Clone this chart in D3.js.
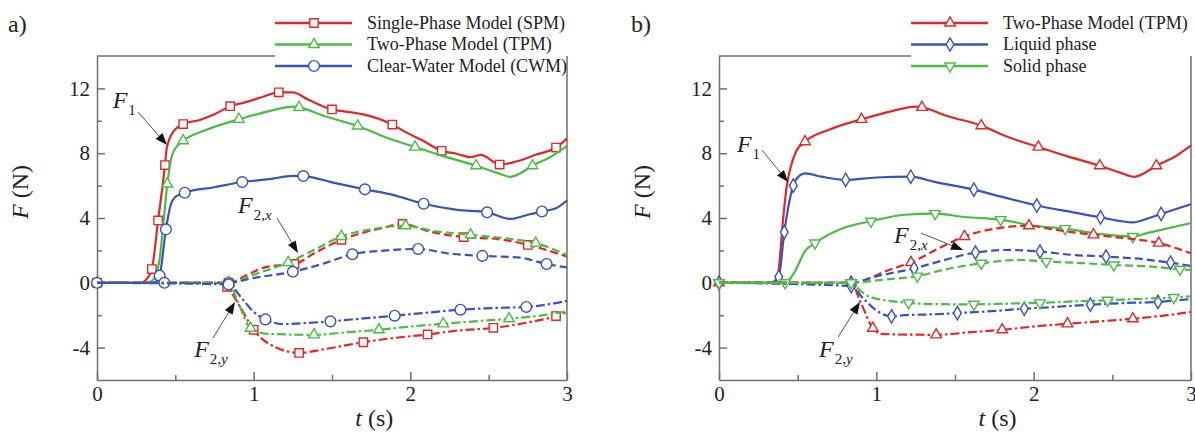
<!DOCTYPE html>
<html>
<head>
<meta charset="utf-8">
<script src="https://cdn.jsdelivr.net/npm/d3@7"></script>
<style>
body { margin: 0; background: #fff; }
svg { display: block; font-family: "Liberation Serif", "Times New Roman", serif; }
</style>
</head>
<body>
<svg id="chart" width="1195" height="435"></svg>
<script>
// axis ticks
var tTicks = [0, 1, 2, 3];
var tMinor = [0.5, 1.5, 2.5];
var fTicks = [-4, 0, 4, 8, 12];
var fMinor = [-2, 2, 6, 10];

// panel a, points are [t (s), F (N), marker?]
var spmF1 = [[0,0,1],[0.28,0],[0.31,0.15],[0.35,0.85,1],[0.39,3.85,1],[0.434,7.27,1],[0.445,8.3],[0.487,9.33],[0.55,9.8,1],[0.657,10.05],[0.75,10.4],[0.85,10.9,1],[0.95,11.15],[1.05,11.45],[1.16,11.76,1],[1.25,11.75],[1.35,11.3],[1.5,10.7,1],[1.6,10.55],[1.7,10.4],[1.885,9.77,1],[1.97,9.3],[2.07,8.83],[2.2,8.15,1],[2.3,7.95],[2.385,7.75],[2.45,7.9],[2.57,7.3,1],[2.68,7.5],[2.8,7.9],[2.93,8.35,1],[3,8.9]];
var tpmF1 = [[0,0,1],[0.32,0],[0.36,0.2],[0.4,1.5],[0.425,3.8],[0.449,6.1,1],[0.476,7.78],[0.508,8.4],[0.55,8.77,1],[0.7,9.45],[0.906,10.09,1],[1.1,10.6],[1.25,10.87],[1.29,10.83,1],[1.45,10.3],[1.664,9.68,1],[1.85,8.95],[2.03,8.38,1],[2.2,7.85],[2.42,7.23,1],[2.55,6.8],[2.64,6.54],[2.7,6.75],[2.78,7.23,1],[2.9,7.8],[3,8.45]];
var cwmF1 = [[0,0,1],[0.35,0],[0.38,0.1],[0.4,0.44,1],[0.44,3.3,1],[0.47,4.8],[0.5,5.3],[0.56,5.56,1],[0.75,5.9],[0.927,6.22,1],[1.1,6.4],[1.25,6.6],[1.317,6.59,1],[1.5,6.2],[1.71,5.77,1],[1.9,5.4],[2.085,4.88,1],[2.3,4.5],[2.49,4.35,1],[2.64,3.94],[2.75,4.2],[2.84,4.4,1],[2.93,4.6],[3,5.08]];
var spmF2x = [[0,0],[0.84,0,1],[0.95,0.45],[1.09,1.0],[1.2,1.1],[1.26,1.16,1],[1.4,1.9],[1.56,2.65,1],[1.7,3.1],[1.82,3.38],[1.95,3.63,1],[2.12,3.17],[2.34,2.82,1],[2.56,2.7],[2.75,2.34,1],[3,1.62]];
var tpmF2x = [[0,0],[0.84,0,1],[1.0,0.5],[1.22,1.26,1],[1.4,2.1],[1.56,2.86,1],[1.75,3.3],[1.97,3.52,1],[2.15,3.2],[2.385,2.96,1],[2.6,2.75],[2.8,2.45,1],[3,1.72]];
var cwmF2x = [[0,0],[0.43,0,1],[0.84,0,1],[1.0,0.3],[1.25,0.68,1],[1.45,1.2],[1.63,1.76,1],[1.85,2.0],[2.05,2.09,1],[2.25,1.8],[2.46,1.66,1],[2.7,1.55],[2.87,1.16,1],[3,0.95]];
var spmF2y = [[0,0],[0.78,0],[0.83,-0.25,1],[0.92,-1.6],[1.0,-2.9,1],[1.14,-3.98],[1.29,-4.33,1],[1.45,-4.1],[1.7,-3.67,1],[1.9,-3.4],[2.11,-3.19,1],[2.3,-2.95],[2.53,-2.78,1],[2.75,-2.45],[2.93,-2.05,1],[3,-1.8]];
var tpmF2y = [[0,0],[0.84,0,1],[0.9,-1.2],[0.98,-2.8,1],[1.09,-3.15],[1.385,-3.21,1],[1.6,-3.05],[1.8,-2.9,1],[2.0,-2.7],[2.21,-2.53,1],[2.45,-2.35],[2.63,-2.22,1],[2.85,-2.0],[3,-1.76]];
var cwmF2y = [[0,0],[0.84,-0.1,1],[0.92,-0.9],[1.0,-1.8],[1.075,-2.26,1],[1.19,-2.55],[1.3,-2.5],[1.49,-2.38,1],[1.7,-2.2],[1.9,-2.03,1],[2.1,-1.85],[2.32,-1.66,1],[2.55,-1.55],[2.74,-1.49,1],[2.9,-1.3],[3,-1.12]];

// panel b
var tpmTotF1 = [[0,0,1],[0.33,0],[0.37,0.3],[0.409,4.08],[0.43,5.93],[0.46,7.3],[0.49,8.1],[0.547,8.71,1],[0.7,9.45],[0.906,10.09,1],[1.1,10.6],[1.25,10.87],[1.29,10.83,1],[1.45,10.3],[1.667,9.7,1],[1.85,8.95],[2.03,8.38,1],[2.2,7.85],[2.42,7.23,1],[2.55,6.8],[2.64,6.54],[2.7,6.75],[2.78,7.23,1],[2.9,7.8],[3,8.48]];
var liquidF1 = [[0,0,1],[0.34,0],[0.38,0.37,1],[0.415,3.13,1],[0.472,6.0,1],[0.51,6.6],[0.547,6.75],[0.65,6.55],[0.805,6.35,1],[1.0,6.5],[1.219,6.55,1],[1.37,6.23],[1.62,5.75,1],[1.8,5.3],[2.02,4.77,1],[2.25,4.35],[2.425,4.04,1],[2.63,3.73],[2.72,3.95],[2.81,4.25,1],[3,4.85]];
var solidF1 = [[0,0,1],[0.42,0,1],[0.475,0.58],[0.55,2.0],[0.61,2.45,1],[0.79,3.38],[0.966,3.8,1],[1.18,4.2],[1.374,4.27,1],[1.56,4.06],[1.79,3.9,1],[2.0,3.52],[2.2,3.34,1],[2.43,3.0],[2.63,2.86,1],[2.72,3.07],[3,3.69]];
var tpmTotF2x = [[0,0],[0.84,0,1],[1.08,0.79],[1.22,1.26,1],[1.42,2.24],[1.56,2.86,1],[1.78,3.38],[1.97,3.52,1],[2.14,3.27],[2.38,2.96,1],[2.58,2.76],[2.795,2.45,1],[3,1.82]];
var liquidF2x = [[0,0],[0.84,0,1],[1.0,0.4],[1.24,0.89,1],[1.45,1.45],[1.63,1.87,1],[1.85,2.03],[2.04,1.93,1],[2.25,1.72],[2.46,1.62,1],[2.7,1.45],[2.87,1.24,1],[3,1.04]];
var solidF2x = [[0,0],[0.84,0,1],[1.05,0.2],[1.26,0.41,1],[1.45,0.85],[1.667,1.2,1],[1.9,1.41],[2.08,1.31,1],[2.3,1.22],[2.51,1.1,1],[2.75,1.0],[2.93,0.83,1],[3,0.79]];
var tpmTotF2y = [[0,0],[0.84,0],[0.9,-1.2],[0.978,-2.8,1],[1.03,-3.15],[1.2,-3.2],[1.38,-3.21,1],[1.6,-3.05],[1.8,-2.9,1],[2.0,-2.7],[2.215,-2.53,1],[2.42,-2.38],[2.63,-2.22,1],[2.85,-2.0],[3,-1.8]];
var liquidF2y = [[0,0],[0.84,-0.2,1],[0.92,-1.0],[1.0,-1.7],[1.097,-2.07,1],[1.18,-2.0],[1.35,-1.95],[1.515,-1.87,1],[1.73,-1.75],[1.94,-1.6,1],[2.15,-1.48],[2.36,-1.35,1],[2.58,-1.25],[2.79,-1.18,1],[3,-1.0]];
var solidF2y = [[0,0],[0.84,0,1],[0.9,-0.5],[0.96,-0.87],[1.205,-1.24,1],[1.4,-1.32],[1.62,-1.33,1],[1.85,-1.28],[2.04,-1.24,1],[2.25,-1.15],[2.47,-1.08,1],[2.7,-0.98],[2.89,-0.91,1],[3,-0.83]];

var legendA = ["Single-Phase Model (SPM)", "Two-Phase Model (TPM)", "Clear-Water Model (CWM)"];
var legendB = ["Two-Phase Model (TPM)", "Liquid phase", "Solid phase"];

var red = "#dc2a2a", green = "#4cbb46", blue = "#3a53b6";
var axisColor = "#707070", textColor = "#222";
var dashes = { solid: null, dash: "8,4", dashdot: "9,3,2.5,3" };

var svg = d3.select("#chart");

function drawMarker(sel, kind, color) {
    var type = { square: d3.symbolSquare, tri: d3.symbolTriangle, triDown: d3.symbolTriangle,
                 circle: d3.symbolCircle, diamond: d3.symbolDiamond }[kind];
    var size = { square: 70, tri: 48, triDown: 48, circle: 90, diamond: 52 }[kind];
    return sel.append("path")
        .attr("d", d3.symbol().type(type).size(size))
        .attr("fill", "#fff")
        .attr("stroke", color)
        .attr("stroke-width", 1.4)
        .attr("transform", function(d) {
            return d.pos + (kind === "triDown" ? " rotate(180)" : "");
        });
}

function panel(cfg) {
    var x = d3.scaleLinear().domain([0, 3]).range([cfg.left, cfg.right]);
    var y = d3.scaleLinear().domain([-6, 14]).range([380, 56]);
    var g = svg.append("g");

    var line = d3.line()
        .x(function(d) { return x(d[0]); })
        .y(function(d) { return y(d[1]); })
        .curve(d3.curveMonotoneX);

    // frame: top edge stops where the legend starts
    g.append("line").attr("x1", cfg.left).attr("x2", cfg.legendX).attr("y1", 56).attr("y2", 56);
    g.append("line").attr("x1", cfg.right).attr("x2", cfg.right).attr("y1", 56).attr("y2", 380);
    g.selectAll("line").attr("stroke", axisColor).attr("stroke-width", 1.5);

    function styleAxis(a) {
        a.attr("font-size", 21).attr("font-family", null);
        a.selectAll("line, path").attr("stroke", axisColor).attr("stroke-width", 1.5);
        a.selectAll("text").attr("fill", textColor);
    }

    g.append("g").attr("transform", "translate(0,380)")
        .call(d3.axisBottom(x).tickValues(tTicks).tickSize(-8).tickSizeOuter(0).tickPadding(6)
            .tickFormat(function(d) { return String(d); }))
        .call(styleAxis);
    g.append("g").attr("transform", "translate(0,380)")
        .call(d3.axisBottom(x).tickValues(tMinor).tickSize(-5).tickFormat(""))
        .call(styleAxis)
        .call(function(a) { a.select(".domain").remove(); });
    g.append("g").attr("transform", "translate(" + cfg.left + ",0)")
        .call(d3.axisLeft(y).tickValues(fTicks).tickSize(-8).tickSizeOuter(0).tickPadding(7)
            .tickFormat(function(d) { return String(d); }))
        .call(styleAxis);
    g.append("g").attr("transform", "translate(" + cfg.left + ",0)")
        .call(d3.axisLeft(y).tickValues(fMinor).tickSize(-5).tickFormat(""))
        .call(styleAxis)
        .call(function(a) { a.select(".domain").remove(); });

    // curves
    cfg.series.forEach(function(s) {
        g.append("path")
            .attr("d", line(s.data))
            .attr("fill", "none")
            .attr("stroke", s.color)
            .attr("stroke-width", 2.2)
            .attr("stroke-dasharray", dashes[s.style]);
        var pts = s.data.filter(function(d) { return d[2]; })
            .map(function(d) { return { pos: "translate(" + x(d[0]) + "," + y(d[1]) + ")" }; });
        g.selectAll(null).data(pts).enter()
            .call(function(sel) { drawMarker(sel, s.marker, s.color); });
    });

    // legend
    var leg = g.append("g");
    leg.append("rect").attr("x", cfg.legendX).attr("y", 8)
        .attr("width", cfg.right - cfg.legendX - 3).attr("height", 70).attr("fill", "#fff");
    cfg.legend.forEach(function(name, i) {
        var s = cfg.series[i], ly = 23 + i * 21.5;
        leg.append("line").attr("x1", cfg.legendX).attr("x2", cfg.legendX + 77)
            .attr("y1", ly).attr("y2", ly)
            .attr("stroke", s.color).attr("stroke-width", 2.6);
        leg.selectAll(null).data([{ pos: "translate(" + (cfg.legendX + 39) + "," + ly + ")" }]).enter()
            .call(function(sel) { drawMarker(sel, s.marker, s.color); });
        leg.append("text").attr("x", cfg.legendX + 92).attr("y", ly).attr("dy", "0.33em")
            .attr("font-size", 18).attr("fill", textColor).text(name);
    });

    // axis titles
    var yl = g.append("text")
        .attr("transform", "translate(" + (cfg.left - 69) + ",192) rotate(-90)")
        .attr("text-anchor", "middle").attr("font-size", 24).attr("fill", textColor);
    yl.append("tspan").attr("font-style", "italic").text("F");
    yl.append("tspan").text(" (N)");

    var xl = g.append("text")
        .attr("x", x(1.77)).attr("y", 426)
        .attr("text-anchor", "middle").attr("font-size", 24).attr("fill", textColor);
    xl.append("tspan").attr("font-style", "italic").text("t");
    xl.append("tspan").text(" (s)");

    g.append("text").attr("x", cfg.tagX).attr("y", 32)
        .attr("font-size", 24).attr("fill", textColor).text(cfg.tag);

    // F1 / F2 annotations with arrows
    cfg.notes.forEach(function(n) {
        var t = g.append("text").attr("x", x(n.at[0])).attr("y", y(n.at[1]))
            .attr("font-size", 24).attr("fill", textColor);
        t.append("tspan").attr("font-style", "italic").text("F");
        var sub = t.append("tspan").attr("font-size", 15).attr("dy", 7).attr("dx", 1);
        sub.text(n.sub[0]);
        if (n.sub[1]) t.append("tspan").attr("font-size", 15).attr("font-style", "italic").text(n.sub[1]);

        var x1 = x(n.from[0]), y1 = y(n.from[1]), x2 = x(n.to[0]), y2 = y(n.to[1]);
        var ang = Math.atan2(y2 - y1, x2 - x1), L = 12, W = 4.5;
        var bx = x2 - L * Math.cos(ang), by = y2 - L * Math.sin(ang);
        g.append("line").attr("x1", x1).attr("y1", y1).attr("x2", bx).attr("y2", by)
            .attr("stroke", "#555").attr("stroke-width", 1);
        g.append("path")
            .attr("d", "M" + x2 + "," + y2 +
                "L" + (bx + W * Math.sin(ang)) + "," + (by - W * Math.cos(ang)) +
                "L" + (bx - W * Math.sin(ang)) + "," + (by + W * Math.cos(ang)) + "Z")
            .attr("fill", "#111");
    });
}

panel({
    left: 97, right: 567, legendX: 275, tag: "a)", tagX: 8,
    legend: legendA,
    series: [
        { data: spmF1, color: red, marker: "square", style: "solid" },
        { data: tpmF1, color: green, marker: "tri", style: "solid" },
        { data: cwmF1, color: blue, marker: "circle", style: "solid" },
        { data: spmF2x, color: red, marker: "square", style: "dash" },
        { data: tpmF2x, color: green, marker: "tri", style: "dash" },
        { data: cwmF2x, color: blue, marker: "circle", style: "dash" },
        { data: spmF2y, color: red, marker: "square", style: "dashdot" },
        { data: tpmF2y, color: green, marker: "tri", style: "dashdot" },
        { data: cwmF2y, color: blue, marker: "circle", style: "dashdot" }
    ],
    notes: [
        { at: [0.10, 10.8], sub: ["1"], from: [0.262, 10.54], to: [0.447, 8.5] },
        { at: [0.90, 4.31], sub: ["2,", "x"], from: [1.149, 4.0], to: [1.283, 1.84] },
        { at: [0.62, -4.58], sub: ["2,", "y"], from: [0.74, -3.41], to: [0.881, -1.19] }
    ]
});

panel({
    left: 719, right: 1191, legendX: 911, tag: "b)", tagX: 631,
    legend: legendB,
    series: [
        { data: tpmTotF1, color: red, marker: "tri", style: "solid" },
        { data: liquidF1, color: blue, marker: "diamond", style: "solid" },
        { data: solidF1, color: green, marker: "triDown", style: "solid" },
        { data: tpmTotF2x, color: red, marker: "tri", style: "dash" },
        { data: liquidF2x, color: blue, marker: "diamond", style: "dash" },
        { data: solidF2x, color: green, marker: "triDown", style: "dash" },
        { data: tpmTotF2y, color: red, marker: "tri", style: "dashdot" },
        { data: liquidF2y, color: blue, marker: "diamond", style: "dashdot" },
        { data: solidF2y, color: green, marker: "triDown", style: "dashdot" }
    ],
    notes: [
        { at: [0.114, 8.07], sub: ["1"], from: [0.273, 8.2], to: [0.439, 6.22] },
        { at: [1.113, 2.46], sub: ["2,", "x"], from: [1.284, 3.07], to: [1.551, 2.02] },
        { at: [0.636, -4.58], sub: ["2,", "y"], from: [0.757, -3.35], to: [0.896, -1.19] }
    ]
});
</script>
</body>
</html>
